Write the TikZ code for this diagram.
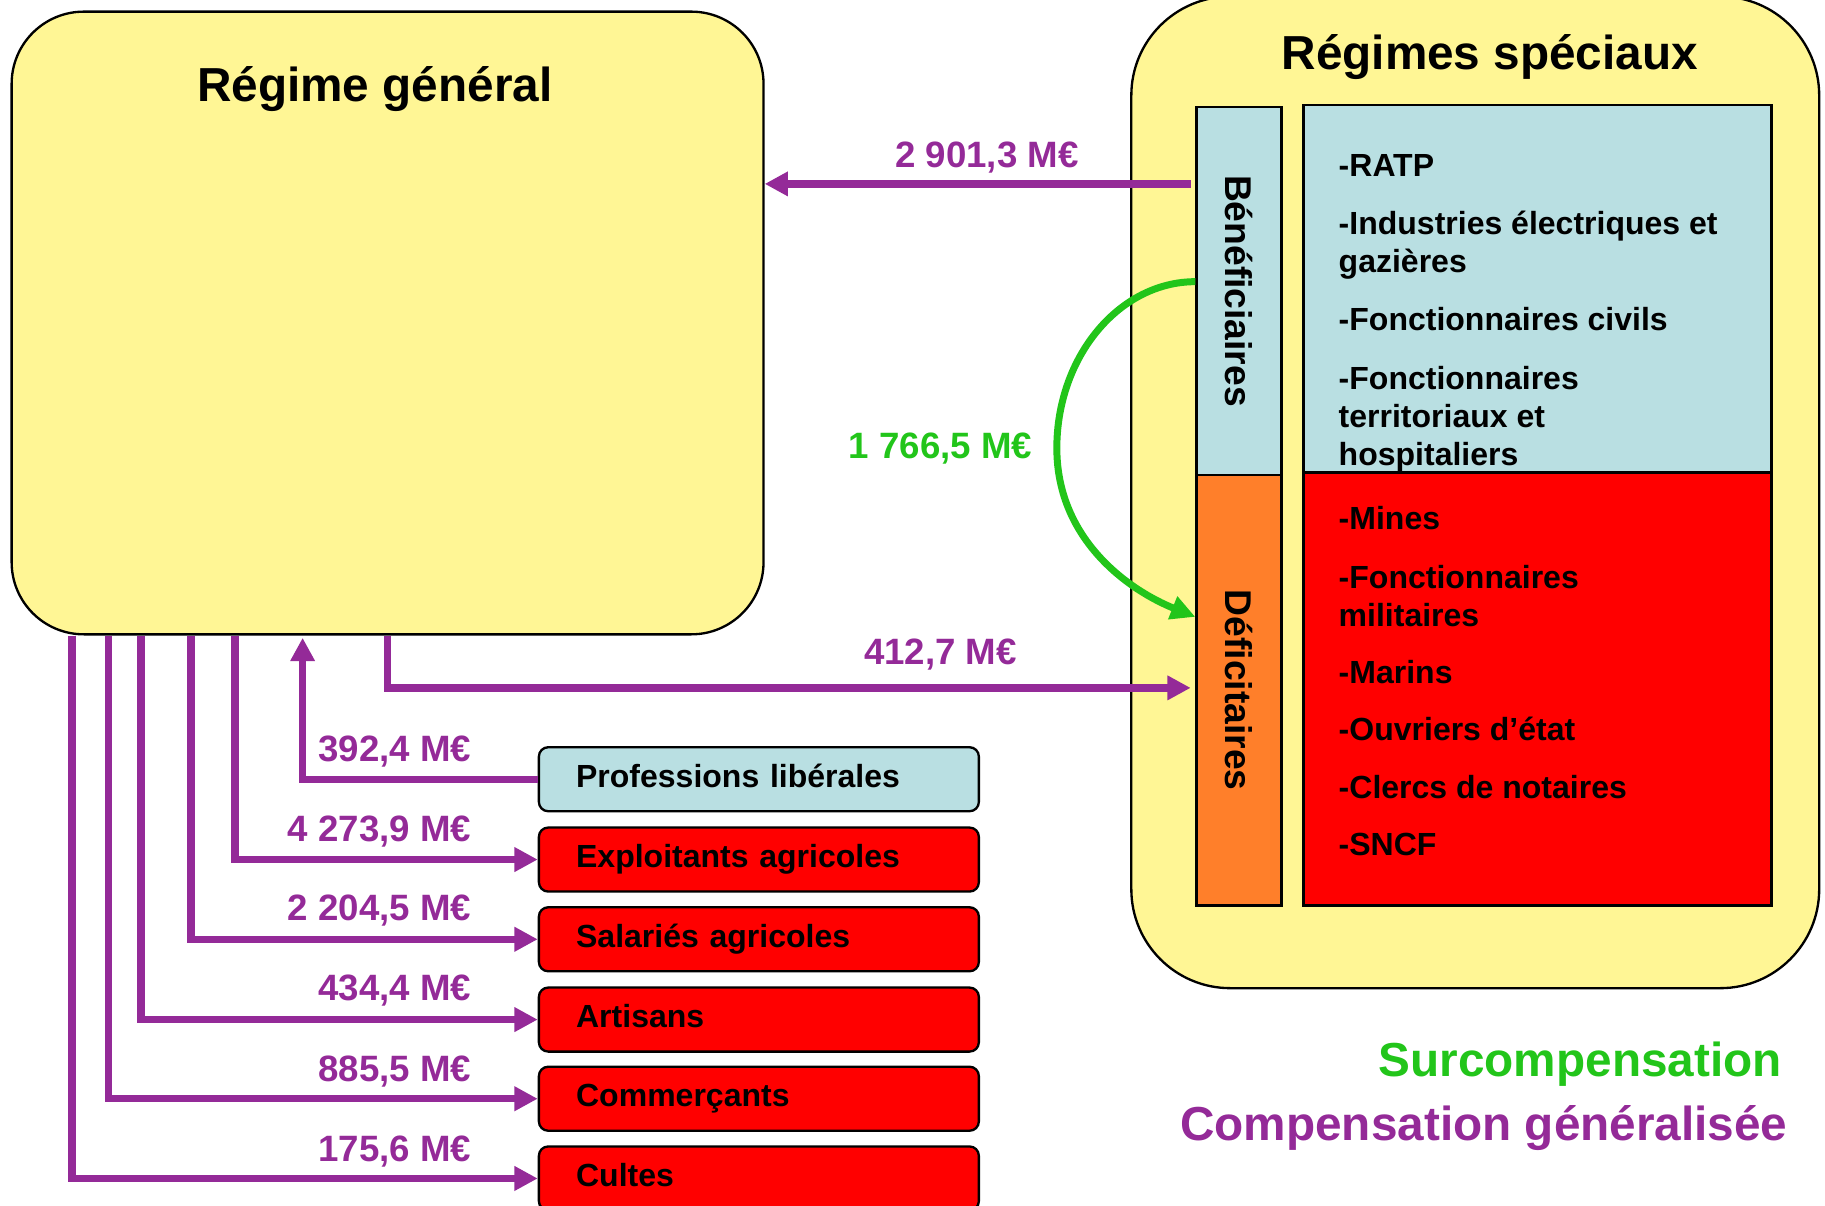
\documentclass[tikz,border=0pt]{standalone}
\usepackage{fontspec}
\setmainfont{Liberation Sans}
\usetikzlibrary{arrows.meta}

\definecolor{jaunepale}{HTML}{FFF695}
\definecolor{bleupale}{HTML}{B9DFE2}
\definecolor{orangevif}{HTML}{FF7F2A}
\definecolor{rouge}{HTML}{FF0000}
\definecolor{violetflux}{HTML}{942A98}
\definecolor{vertflux}{HTML}{22C51A}

\tikzset{
    regime/.style={draw=black, line width=2pt, fill=jaunepale},
    titre/.style={font=\fontsize{41}{49}\selectfont\bfseries, inner sep=0pt},
    strip/.style={draw=black, line width=2pt, minimum width=73pt},
    vertlabel/.style={rotate=-90, font=\fontsize{32}{38}\selectfont\bfseries, inner sep=0pt},
    listbox/.style={draw=black, line width=2pt, minimum width=402pt},
    listtext/.style={anchor=north west, align=left, inner sep=0pt, font=\fontsize{27.5}{33}\selectfont\bfseries},
    caisse/.style={draw=black, line width=2pt, rounded corners=8pt, minimum height=55pt,
        text width=314pt, inner xsep=32pt, align=left, text height=20pt, text depth=6pt,
        font=\fontsize{27.5}{33}\selectfont\bfseries},
    flow/.style={draw=violetflux, line width=6.3pt, -{Triangle[length=20pt,width=20pt]}},
    amount/.style={text=violetflux, font=\fontsize{31.5}{38}\selectfont\bfseries, inner sep=0pt},
}

\begin{document}
\begin{tikzpicture}[x=1pt,y=-1pt]
    \useasboundingbox (0,0) rectangle (1568,1036);
    % Regime general
    \node[regime, rounded corners=62pt, minimum width=646pt, minimum height=535pt] (gen) at (333,277.5) {};
    \node[titre, anchor=base] (gentitle) at (322,87) {Régime général};
    % Regimes speciaux
    \node[regime, rounded corners=85pt, minimum width=591pt, minimum height=852pt] (spec) at (1267.5,423) {};
    \node[titre, anchor=base] (spectitle) at (1280,60) {Régimes spéciaux};
    \node[strip, fill=bleupale, minimum height=316pt] (benef) at (1064.5,250) {};
    \node[strip, fill=orangevif, minimum height=370pt] (defic) at (1064.5,593) {};
    \node[vertlabel] (beneftxt) at (benef.center) {Bénéficiaires};
    \node[vertlabel] (defictxt) at (defic.center) {Déficitaires};
    \node[listbox, fill=bleupale, minimum height=316pt] (listben) at (1321,248) {};
    \node[listbox, fill=rouge, minimum height=372pt] (listdef) at (1321,592) {};
    \node[listtext] (bentxt) at (1150,128) {\strut-RATP\\[17pt]-Industries électriques et\\gazières\\[17pt]-Fonctionnaires civils\\[17pt]-Fonctionnaires\\territoriaux et\\hospitaliers};
    \node[listtext] (deftxt) at (1150,432) {\strut-Mines\\[17pt]-Fonctionnaires\\militaires\\[16pt]-Marins\\[16pt]-Ouvriers d’état\\[17pt]-Clercs de notaires\\[16pt]-SNCF};
    % Autres regimes
    \node[caisse, fill=bleupale] (liberal) at (652,669.5) {Professions libérales};
    \node[caisse, fill=rouge] (exploit) at (652,738.5) {Exploitants agricoles};
    \node[caisse, fill=rouge] (salag) at (652,807) {Salariés agricoles};
    \node[caisse, fill=rouge] (artis) at (652,876) {Artisans};
    \node[caisse, fill=rouge] (commer) at (652,944) {Commerçants};
    \node[caisse, fill=rouge] (cultes) at (652,1012.5) {Cultes};
    % Flux
    \coordinate (yA) at (0,158);
    \coordinate (yB) at (0,242);
    \coordinate (yC) at (0,530);
    \coordinate (yD) at (0,591);
    \coordinate (xD) at (333,0);
    \coordinate (xL) at (260,0);
    \draw[flow, shorten <=4pt] (benef.west |- yA) -- (gen.east |- yA);
    \draw[flow, shorten >=4pt] (gen.south -| xD) |- (defic.west |- yD);
    \draw[flow, shorten >=2pt] (liberal.west) -| (gen.south -| xL);
    \foreach \xx/\cible in {202/exploit, 164/salag, 121/artis, 93/commer, 62/cultes} {
        \coordinate (xk) at (\xx,0);
        \draw[flow] (gen.south -| xk) |- (\cible.west);
    }
    \draw[vertflux, line width=6pt, -{Triangle[length=21pt,width=20pt]}]
        (benef.west |- yB) .. controls (962,242) and (908,306) .. (908,385)
        .. controls (908,465) and (972,508) .. (defic.west |- yC);
    % Montants
    \node[amount, anchor=base] (m1) at (848,144) {2 901,3 M€};
    \node[amount, anchor=base, text=vertflux] (m2) at (808,394) {1 766,5 M€};
    \node[amount, anchor=base] (m3) at (808,571) {412,7 M€};
    \node[amount, anchor=base east] (m4) at (405,654) {392,4 M€};
    \node[amount, anchor=base east] (m5) at (405,723) {4 273,9 M€};
    \node[amount, anchor=base east] (m6) at (405,791) {2 204,5 M€};
    \node[amount, anchor=base east] (m7) at (405,860) {434,4 M€};
    \node[amount, anchor=base east] (m8) at (405,929) {885,5 M€};
    \node[amount, anchor=base east] (m9) at (405,998) {175,6 M€};
    % Legende
    \node[titre, anchor=base east, text=vertflux] (leg1) at (1531,925) {Surcompensation};
    \node[titre, anchor=base east, text=violetflux] (leg2) at (1536,980) {Compensation généralisée};
\end{tikzpicture}
\end{document}
